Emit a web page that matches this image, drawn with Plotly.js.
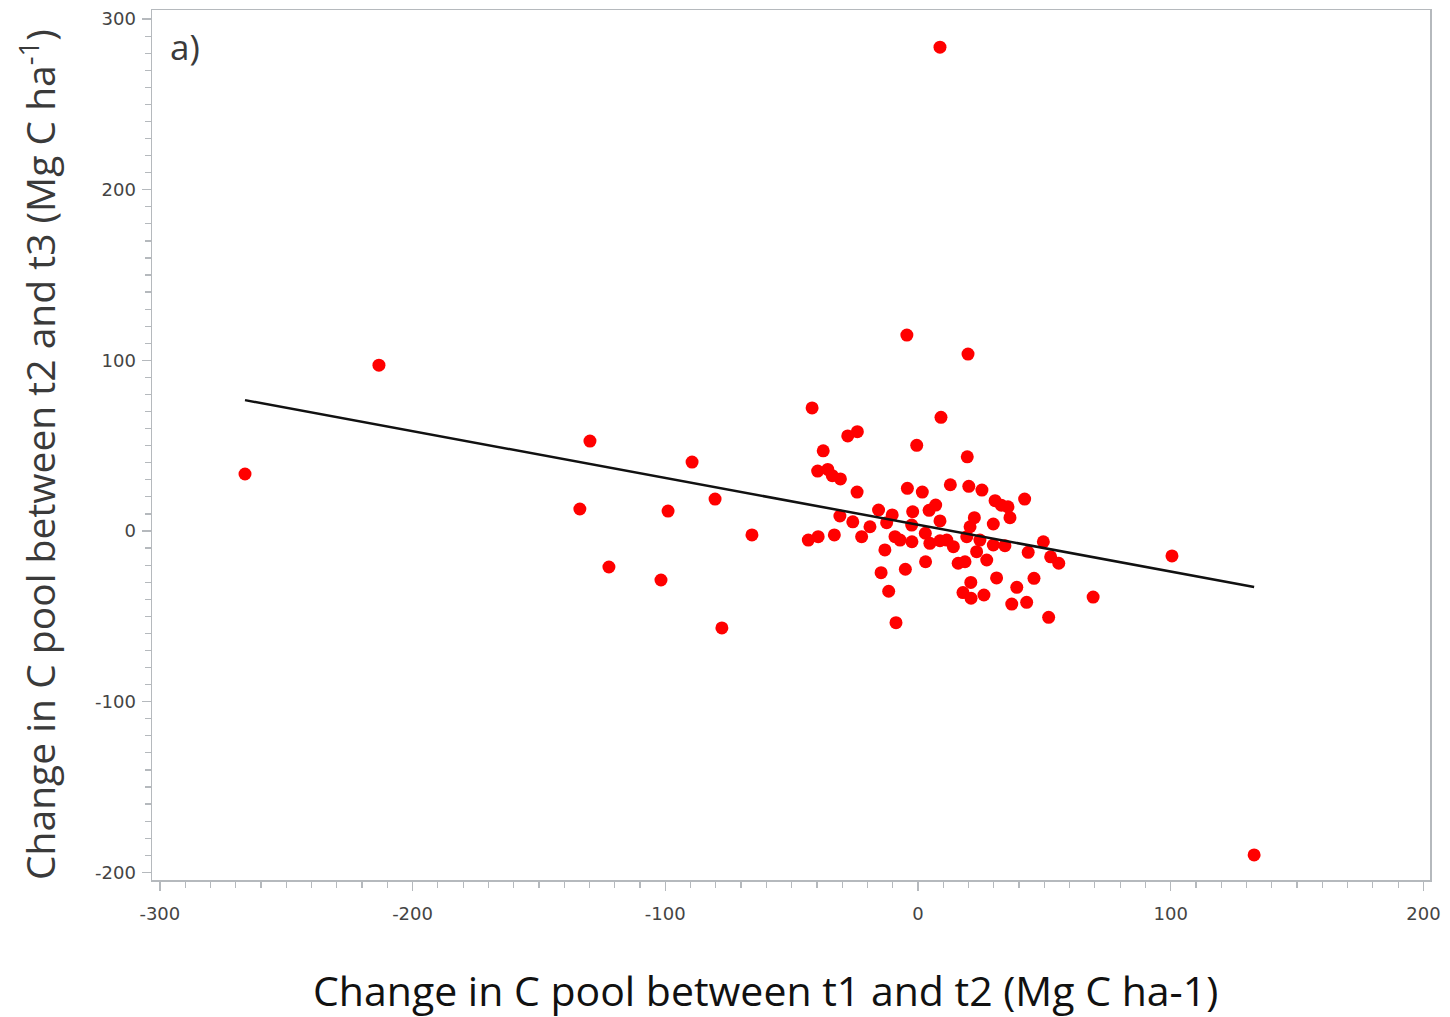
<!DOCTYPE html>
<html>
<head>
<meta charset="utf-8">
<script src="https://cdn.plot.ly/plotly-3.0.1.min.js"></script>
<style>body{margin:0;padding:0;background:#fff;} #chart{width:1450px;height:1017px;}</style>
</head>
<body>
<div id="chart"></div>
<script>
// Observed changes in C pool (Mg C ha-1)
const changeT1T2 = [
  8.7, -213.3, -266.3, 133.0, -4.4, 19.8, 100.5, 69.3,
  -129.8, -89.4, -133.8, -122.3, -101.7, -98.9, -80.3, -65.7, -77.6,
  -41.9, 9.1, -24.0, -27.8, -37.5, -0.5, 19.5, -39.7, -35.7, -33.9,
  -30.7, -24.1, -4.2, 1.7, 12.8, 20.1, 25.3, 42.2, 30.5, 33.0,
  35.6, 36.4, 7.0, 4.4, -2.1, -15.6, -10.2, -30.9, -25.8, -19.0,
  -12.4, -2.5, 8.7, 22.3, 20.6, 29.8, -43.4, -39.5, -33.1, -22.3,
  -9.1, -2.4, 2.9, 4.7, 8.7, 11.4, 14.0, 19.3, 24.5, 29.8,
  34.4, 49.6, 43.6, 52.5, 55.7, -13.1, -7.1, 23.2, 27.2, 18.6,
  15.9, 3.0, -5.0, -14.6, 20.9, 31.1, 45.9, 39.1, 17.8, 21.0,
  26.1, -11.6, 37.1, 43.0, 51.7, -8.7
];
const changeT2T3 = [
  283.5, 97.2, 33.4, -189.8, 114.8, 103.7, -14.6, -38.7,
  52.7, 40.4, 12.9, -21.1, -28.7, 11.7, 18.7, -2.3, -56.8,
  72.1, 66.6, 58.2, 55.7, 47.0, 50.2, 43.5, 35.1, 36.1, 32.4,
  30.5, 22.8, 25.0, 22.8, 27.1, 26.2, 24.0, 18.7, 17.8, 15.1,
  14.2, 7.8, 15.2, 12.1, 11.3, 12.3, 9.4, 8.8, 5.4, 2.5,
  4.9, 3.5, 5.9, 7.8, 2.5, 4.1, -5.3, -3.3, -2.3, -3.3,
  -3.3, -6.3, -1.3, -7.2, -5.7, -5.3, -9.2, -3.3, -5.3, -8.2,
  -8.6, -6.3, -12.5, -15.1, -18.9, -11.1, -5.3, -12.1, -17.0, -18.0,
  -18.9, -18.0, -22.4, -24.4, -30.1, -27.5, -27.7, -33.0, -36.1, -39.4,
  -37.5, -35.3, -42.8, -41.8, -50.6, -53.7
];
// Fitted regression line end points
const fitX = [-266.3, 133.0];
const fitY = [76.7, -32.8];

const xTicks = [-300, -200, -100, 0, 100, 200];
const yTicks = [-200, -100, 0, 100, 200, 300];

const tickFont = {family: 'DejaVu Sans, sans-serif', size: 18, color: '#444444'};
const axisCommon = {
  showgrid: false, zeroline: false,
  showline: true, mirror: true, linecolor: '#b5b9bd', linewidth: 1.5,
  ticks: 'outside', ticklen: 9, tickwidth: 1.5, tickcolor: '#b5b9bd',
  tickfont: tickFont, tickmode: 'array'
};

const traces = [
  {
    x: changeT1T2, y: changeT2T3, type: 'scatter', mode: 'markers',
    marker: {color: '#ff0000', size: 13}, hoverinfo: 'x+y', showlegend: false
  },
  {
    x: fitX, y: fitY, type: 'scatter', mode: 'lines',
    line: {color: '#111111', width: 2.5}, showlegend: false
  }
];

const layout = {
  width: 1450, height: 1017,
  margin: {l: 152, r: 20, t: 10, b: 137},
  paper_bgcolor: '#ffffff', plot_bgcolor: '#ffffff',
  xaxis: Object.assign({}, axisCommon, {
    range: [-303.1, 202.6], tickvals: xTicks, ticktext: xTicks.map(String),
    ticklabelstandoff: 8,
    minor: {dtick: 10, tick0: 0, ticks: 'outside', ticklen: 6, tickcolor: '#b5b9bd', tickwidth: 1.2}
  }),
  yaxis: Object.assign({}, axisCommon, {
    range: [-204.5, 305.3], tickvals: yTicks, ticktext: yTicks.map(String),
    ticklabelstandoff: 2,
    minor: {dtick: 10, tick0: 0, ticks: 'outside', ticklen: 6, tickcolor: '#b5b9bd', tickwidth: 1.2}
  }),
  annotations: [
    {
      text: 'Change in C pool between t2 and t3 (Mg C ha<sup>-1</sup>)',
      xref: 'paper', yref: 'paper', x: -0.0892, y: 0.4885, textangle: -90,
      xanchor: 'center', yanchor: 'middle', showarrow: false,
      font: {family: 'Open Sans, Noto Sans, sans-serif', size: 39, color: '#3a3a3a'}
    },
    {
      text: 'Change in C pool between t1 and t2 (Mg C ha-1)',
      xref: 'paper', yref: 'paper', x: 0.4797, y: -0.126,
      xanchor: 'center', yanchor: 'middle', showarrow: false,
      font: {family: 'Open Sans, Noto Sans, sans-serif', size: 41, color: '#111111'}
    },
    {
      text: 'a)', xref: 'paper', yref: 'paper', x: 0.0258, y: 0.958,
      xanchor: 'center', yanchor: 'middle', showarrow: false,
      font: {family: 'Open Sans, Noto Sans, sans-serif', size: 35, color: '#3a3a3a'}
    }
  ]
};

Plotly.newPlot('chart', traces, layout, {displayModeBar: false, staticPlot: true});
</script>
</body>
</html>
